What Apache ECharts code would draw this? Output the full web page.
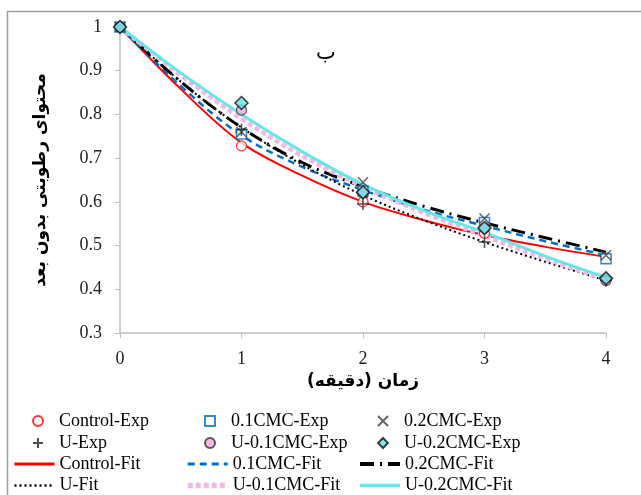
<!DOCTYPE html>
<html>
<head>
<meta charset="utf-8">
<script src="https://cdn.jsdelivr.net/npm/echarts@6/dist/echarts.min.js"></script>
<style>
  html, body { margin: 0; padding: 0; background: #fff; }
  #chart { width: 641px; height: 495px; }
</style>
</head>
<body>
<div id="chart"></div>
<script>
// زمان (دقیقه)
var times = [0, 1, 2, 3, 4];
var fitTimes = [0, 0.5, 1, 1.5, 2, 2.5, 3, 3.5, 4];

// measured points
var controlExp = [1, 0.728, 0.600, 0.528, 0.472];
var cmc1Exp    = [1, 0.755, 0.625, 0.553, 0.470];
var cmc2Exp    = [1, 0.760, 0.645, 0.562, 0.478];
var uExp       = [1, 0.765, 0.595, 0.508, 0.420];
var uCmc1Exp   = [1, 0.810, 0.620, 0.540, 0.420];
var uCmc2Exp   = [1, 0.826, 0.622, 0.540, 0.425];

// fitted curves read at fitTimes
var controlFit = [1, 0.858, 0.735, 0.660, 0.600, 0.558, 0.524, 0.497, 0.474];
var cmc1Fit    = [1, 0.865, 0.752, 0.680, 0.627, 0.582, 0.545, 0.510, 0.478];
var cmc2Fit    = [1, 0.875, 0.770, 0.690, 0.635, 0.590, 0.552, 0.518, 0.485];
var uFit       = [1, 0.875, 0.770, 0.685, 0.615, 0.558, 0.508, 0.463, 0.420];
var uCmc1Fit   = [1, 0.890, 0.790, 0.705, 0.635, 0.575, 0.522, 0.470, 0.422];
var uCmc2Fit   = [1, 0.895, 0.800, 0.715, 0.640, 0.580, 0.530, 0.476, 0.427];

var yTicks = [0.3, 0.4, 0.5, 0.6, 0.7, 0.8, 0.9, 1];
var xTicks = [0, 1, 2, 3, 4];

// legend columns
var expCols = [['Control-Exp', 'U-Exp'], ['0.1CMC-Exp', 'U-0.1CMC-Exp'], ['0.2CMC-Exp', 'U-0.2CMC-Exp']];
var fitCols = [['Control-Fit', 'U-Fit'], ['0.1CMC-Fit', 'U-0.1CMC-Fit'], ['0.2CMC-Fit', 'U-0.2CMC-Fit']];

function pairs(xs, ys) {
    return xs.map(function (x, i) { return [x, ys[i]]; });
}

var serif = '"Liberation Serif", "Times New Roman", serif';
var arab = '"DejaVu Sans", sans-serif';
var axisGray = '#BFBFBF';
// near-invisible marker so the legend shows only the line
var noMark = 'path://M0,0L0.1,0L0,0.1ZM100,100L100.1,100L100,100.1Z';

// legend line thickness (legend draws them thinner otherwise)
var legendLineWidth = {
    'Control-Fit': 3, 'U-Fit': 2.5, '0.1CMC-Fit': 3,
    'U-0.1CMC-Fit': 5.5, '0.2CMC-Fit': 4, 'U-0.2CMC-Fit': 3.5
};

function expSeries(name, ys, symbol, size, style) {
    return {
        name: name,
        type: 'scatter',
        data: pairs(times, ys),
        symbol: symbol,
        symbolSize: size,
        itemStyle: style,
        z: 5
    };
}

function fitSeries(name, ys, color, width, dash) {
    return {
        name: name,
        type: 'line',
        data: pairs(fitTimes, ys),
        smooth: 0.35,
        symbol: noMark,
        showSymbol: false,
        lineStyle: { color: color, width: width, type: dash || 'solid' },
        itemStyle: { color: color },
        z: 3
    };
}

var colLeft = [13, 185, 358];
var legends = [];
expCols.forEach(function (names, i) {
    legends.push({
        orient: 'vertical', left: colLeft[i] + 19, top: 412, padding: 0,
        itemWidth: 10, itemHeight: 10, itemGap: 4,
        textStyle: { fontFamily: serif, fontSize: 18, color: '#000', padding: [0, 0, 0, 11] },
        selectedMode: false, data: names
    });
});
fitCols.forEach(function (names, i) {
    legends.push({
        orient: 'vertical', left: colLeft[i], top: 455, padding: 0,
        itemWidth: 40, itemHeight: 10, itemGap: 3.5,
        textStyle: { fontFamily: serif, fontSize: 18, color: '#000' },
        selectedMode: false,
        data: names.map(function (n) {
            return { name: n, lineStyle: { width: legendLineWidth[n] } };
        })
    });
});

var option = {
    animation: false,
    title: {
        text: 'ب',
        left: 311,
        top: 38,
        textStyle: { fontFamily: arab, fontSize: 21, fontWeight: 'normal', color: '#000' }
    },
    graphic: [{
        type: 'rect',
        shape: { x: 7.5, y: 11.5, width: 700, height: 560 },
        style: { fill: 'none', stroke: '#A0A0A0', lineWidth: 1.5 },
        silent: true
    }],
    legend: legends,
    grid: { left: 120, right: 35, top: 27, bottom: 162 },
    xAxis: {
        type: 'value',
        min: xTicks[0],
        max: xTicks[xTicks.length - 1],
        interval: 1,
        name: 'زمان (دقیقه)',
        nameLocation: 'middle',
        nameGap: 37,
        nameTextStyle: { fontFamily: arab, fontSize: 17, fontWeight: 'bold', color: '#000' },
        axisLine: { lineStyle: { color: axisGray, width: 1.5 } },
        axisTick: { show: true, length: 5, lineStyle: { color: axisGray } },
        axisLabel: { fontFamily: serif, fontSize: 18, color: '#222', margin: 17 },
        splitLine: { show: false }
    },
    yAxis: {
        type: 'value',
        min: yTicks[0],
        max: yTicks[yTicks.length - 1],
        interval: 0.1,
        name: 'محتوای رطوبتی بدون بعد',
        nameLocation: 'middle',
        nameGap: 71,
        nameTextStyle: { fontFamily: arab, fontSize: 17, fontWeight: 'bold', color: '#000' },
        axisLine: { show: true, lineStyle: { color: axisGray, width: 1.5 } },
        axisTick: { show: true, length: 5, lineStyle: { color: axisGray } },
        axisLabel: {
            fontFamily: serif, fontSize: 18, color: '#222', margin: 18,
            formatter: function (v) { return String(Math.round(v * 10) / 10); }
        },
        splitLine: { show: false }
    },
    series: [
        fitSeries('Control-Fit', controlFit, '#FF0000', 2),
        fitSeries('0.1CMC-Fit', cmc1Fit, '#0070C0', 2.5, [7, 5]),
        fitSeries('0.2CMC-Fit', cmc2Fit, '#000000', 3, [14, 6, 2, 6]),
        fitSeries('U-Fit', uFit, '#000000', 2, [2, 3]),
        fitSeries('U-0.1CMC-Fit', uCmc1Fit, '#F5B8E6', 4.5, [5, 3]),
        fitSeries('U-0.2CMC-Fit', uCmc2Fit, '#66E6E6', 3),
        expSeries('Control-Exp', controlExp, 'circle', 10,
            { color: '#fff', borderColor: '#FF0000', borderWidth: 1.2 }),
        expSeries('0.1CMC-Exp', cmc1Exp, 'rect', 10,
            { color: '#fff', borderColor: '#0070C0', borderWidth: 1.5 }),
        expSeries('0.2CMC-Exp', cmc2Exp, 'path://M0,0L10,10M10,0L0,10', 10,
            { color: '#404040', borderColor: '#404040', borderWidth: 1.5 }),
        expSeries('U-Exp', uExp, 'path://M5,0L5,10M0,5L10,5', 12,
            { color: '#222', borderColor: '#222', borderWidth: 1.5 }),
        expSeries('U-0.1CMC-Exp', uCmc1Exp, 'circle', 10,
            { color: '#F2A6DC', borderColor: '#333', borderWidth: 1.2 }),
        expSeries('U-0.2CMC-Exp', uCmc2Exp, 'diamond', 13,
            { color: '#66E0E0', borderColor: '#111', borderWidth: 1.5 })
    ]
};

var chart = echarts.init(document.getElementById('chart'), null, { renderer: 'canvas' });
chart.setOption(option);
</script>
</body>
</html>
